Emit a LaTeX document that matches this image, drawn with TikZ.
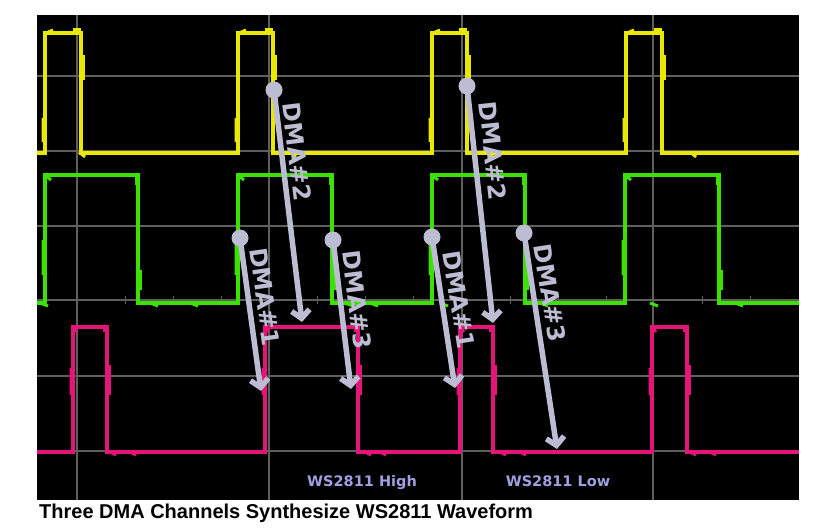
\documentclass[tikz,border=0pt]{standalone}
\usepackage{fontspec}
\setmainfont{DejaVu Sans}
\newfontfamily\capfont{Liberation Sans}
\usetikzlibrary{arrows.meta}
\definecolor{scopeyellow}{RGB}{232,232,0}
\definecolor{scopegreen}{RGB}{60,225,0}
\definecolor{scopepink}{RGB}{228,20,120}
\definecolor{gridc}{RGB}{95,95,95}
\definecolor{arrowc}{RGB}{188,188,210}
\definecolor{wslabel}{RGB}{160,160,225}
\begin{document}
\begin{tikzpicture}[x=1pt,y=-1pt,
  gridline/.style={gridc, line width=1.5pt},
  wave/.style={line width=3.5pt, line join=miter},
  jog/.style={line width=3pt},
  dot/.style={circle, fill=arrowc, minimum size=17pt, inner sep=0pt},
  dmaarrow/.style={arrowc, line width=5.5pt, -{Straight Barb[length=8pt,width=18pt]}},
  dmalabel/.style={text=arrowc, font=\bfseries\fontsize{24}{24}\selectfont, inner sep=0pt},
  wslab/.style={text=wslabel, font=\bfseries\fontsize{14.5}{14.5}\selectfont, inner sep=0pt, anchor=base},
]
\fill[white] (0,0) rectangle (833,532);
\useasboundingbox (0,0) rectangle (833,532);
% screen
\fill[black] (37,15) rectangle (799,500);
% grid
\foreach \gx in {77,269,462,653} \draw[gridline] (\gx,15) -- (\gx,500);
\foreach \gy in {76,151,226,300,376,451} \draw[gridline] (37,\gy) -- (799,\gy);
\foreach \tx in {125,173,221,317,365,413,510,558,606,702,750} \draw[gridc, line width=1pt] (\tx,296) -- (\tx,304);
% yellow channel
\draw[wave, scopeyellow] (37,153) -- (45,153) -- (45,33) -- (81,33) -- (81,153) -- (238,153) -- (238,33) -- (273,33) -- (273,153)
  -- (432,153) -- (432,33) -- (467,33) -- (467,153) -- (626,153) -- (626,33) -- (662,33) -- (662,153) -- (799,153);
\foreach \rx in {45,238,432,626} \draw[jog, scopeyellow] (\rx-2,118) -- (\rx-2,142) (\rx-1,34) -- (\rx+8,30);
\foreach \fx in {81,273,467,662} \draw[jog, scopeyellow] (\fx+2,55) -- (\fx+2,80) (\fx-8,30) -- (\fx,30);
\foreach \nx in {79,290,487,690} \draw[jog, scopeyellow] (\nx,152) -- (\nx+6,157);
% green channel
\draw[wave, scopegreen] (37,303) -- (45,303) -- (45,175) -- (138,175) -- (138,303) -- (238,303) -- (238,175) -- (332,175) -- (332,303)
  -- (432,303) -- (432,175) -- (525,175) -- (525,303) -- (625,303) -- (625,175) -- (719,175) -- (719,303) -- (799,303);
\foreach \rx in {45,238,432,625} \draw[jog, scopegreen] (\rx-2,240) -- (\rx-2,275) (\rx+1,176) -- (\rx+6,180);
\foreach \fx in {138,332,525,719} \draw[jog, scopegreen] (\fx+2,270) -- (\fx+2,290) (\fx-2,176) -- (\fx-2,185);
\foreach \nx in {40,150,190,345,370,440,540,650,735} \draw[jog, scopegreen] (\nx,303) -- (\nx+8,306);
% pink channel
\draw[wave, scopepink] (37,452) -- (73,452) -- (73,327) -- (107,327) -- (107,452) -- (265,452) -- (265,327) -- (358,327) -- (358,452)
  -- (460,452) -- (460,327) -- (493,327) -- (493,452) -- (652,452) -- (652,327) -- (687,327) -- (687,452) -- (799,452);
\foreach \rx in {73,265,460,652} \draw[jog, scopepink] (\rx-2,368) -- (\rx-2,395) (\rx+1,328) -- (\rx+4,332);
\foreach \fx in {107,358,493,687} \draw[jog, scopepink] (\fx+2,365) -- (\fx+2,395) (\fx-3,328) -- (\fx-3,332);
\foreach \nx in {110,130,365,380,500,520,690,710} \draw[jog, scopepink] (\nx,452) -- (\nx+6,455);
% DMA arrows
\node[dot] (d2a) at (274,90) {};
\coordinate (t2a) at (302,322);
\node[dot] (d2b) at (467,86) {};
\coordinate (t2b) at (493,323);
\node[dot] (d1a) at (240,238) {};
\coordinate (t1a) at (261,391);
\node[dot] (d3a) at (333,240) {};
\coordinate (t3a) at (351,389);
\node[dot] (d1b) at (432,237) {};
\coordinate (t1b) at (455,388);
\node[dot] (d3b) at (524,233) {};
\coordinate (t3b) at (557,449);
\draw[dmaarrow] (d2a.center) -- (t2a);
\draw[dmaarrow] (d2b.center) -- (t2b);
\draw[dmaarrow] (d1a.center) -- (t1a);
\draw[dmaarrow] (d3a.center) -- (t3a);
\draw[dmaarrow] (d1b.center) -- (t1b);
\draw[dmaarrow] (d3b.center) -- (t3b);
% DMA labels
\node[dmalabel, rotate=-83] (l2a) at (297,152) {DMA\#2};
\node[dmalabel, rotate=-84] (l2b) at (493,151) {DMA\#2};
\node[dmalabel, rotate=-82] (l1a) at (265,297) {DMA\#1};
\node[dmalabel, rotate=-83] (l3a) at (357,300) {DMA\#3};
\node[dmalabel, rotate=-81] (l1b) at (459,300) {DMA\#1};
\node[dmalabel, rotate=-81] (l3b) at (550,293) {DMA\#3};
% bottom labels
\node[wslab] (wsh) at (362,486) {WS2811 High};
\node[wslab] (wsl) at (558,486) {WS2811 Low};
% caption
\node[anchor=base west, inner sep=0pt, font=\capfont\bfseries\fontsize{20}{20}\selectfont] (cap) at (39,518) {Three DMA Channels Synthesize WS2811 Waveform};
\end{tikzpicture}
\end{document}
